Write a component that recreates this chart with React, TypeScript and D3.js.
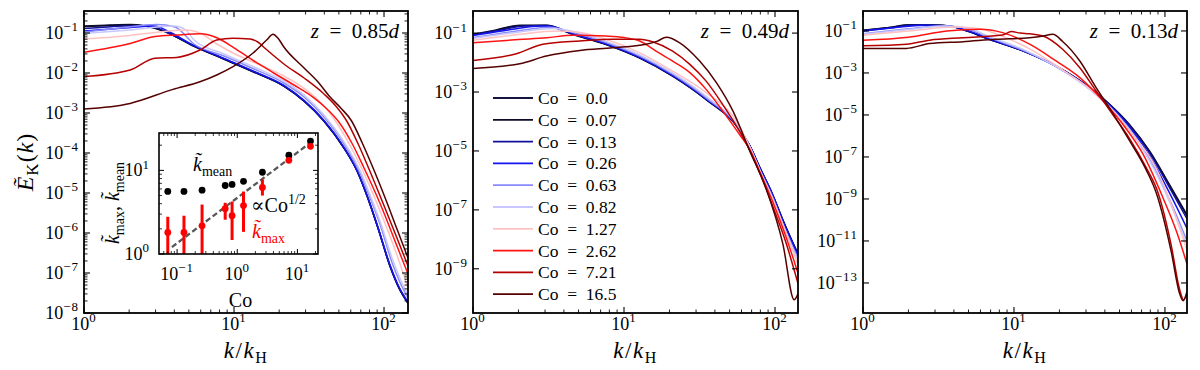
import React from "react";
import * as d3 from "d3";

type Pt = [number, number]; // [k, log10 E]

const FONT = "'Liberation Serif', 'DejaVu Serif', serif";
const EN = "\u2002";

// ---------- legend / colours ----------
const CO_LABELS = ["0.0", "0.07", "0.13", "0.26", "0.63", "0.82", "1.27", "2.62", "7.21", "16.5"];
const CO_COLORS = ["#14143c", "#0c0c26", "#10109c", "#1414ee", "#8a8aff", "#c8c8ff", "#ffc2c2", "#ff1212", "#b40000", "#540000"];

// ---------- panel z = 0.85d ----------
const Z085_CO_000: Pt[] = [[1,-0.825],[1.49,-0.80],[2.03,-0.79],[2.55,-0.825],[3.41,-0.95],[5.41,-1.325],[8.58,-1.65],[13.6,-1.975],[21.5,-2.325],[29.3,-2.7],[39.8,-3.2],[54.1,-3.875],[66.2,-4.45],[76.7,-5.05],[91.2,-5.875],[109.6,-6.825],[125.9,-7.375],[144.5,-7.75]];
const Z085_CO_007: Pt[] = [[1,-0.84],[1.5,-0.81],[2.1,-0.80],[2.6,-0.83],[3.41,-0.955],[5.41,-1.33],[8.58,-1.655],[13.6,-1.98],[21.5,-2.33],[29.3,-2.705],[39.8,-3.205],[54.1,-3.88],[66.2,-4.455],[76.7,-5.055],[91.2,-5.88],[109.6,-6.83],[125.9,-7.38],[144.5,-7.76]];
const Z085_CO_013: Pt[] = [[1,-0.89],[1.85,-0.825],[2.75,-0.81],[3.41,-0.95],[5.41,-1.32],[8.58,-1.645],[13.6,-1.97],[21.5,-2.32],[29.3,-2.695],[39.8,-3.195],[54.1,-3.87],[66.2,-4.445],[76.7,-5.045],[91.2,-5.87],[109.6,-6.82],[125.9,-7.37],[144.5,-7.74]];
const Z085_CO_026: Pt[] = [[1,-0.95],[1.85,-0.875],[2.97,-0.825],[3.6,-0.95],[5.41,-1.31],[8.58,-1.635],[13.6,-1.96],[21.5,-2.31],[29.3,-2.685],[39.8,-3.185],[54.1,-3.86],[66.2,-4.44],[76.7,-5.04],[91.2,-5.86],[109.6,-6.8],[125.9,-7.35],[144.5,-7.72]];
const Z085_CO_063: Pt[] = [[1,-0.975],[1.74,-0.875],[3.06,-0.79],[4.04,-0.85],[5.41,-1.275],[8.58,-1.575],[13.6,-1.9],[21.5,-2.25],[29.3,-2.6],[39.8,-3.1],[54.1,-3.775],[68.1,-4.45],[80.8,-5.125],[94.4,-5.8],[112.7,-6.725],[127.4,-7.225],[144.5,-7.625]];
const Z085_CO_082: Pt[] = [[1,-1.01],[2.03,-0.925],[3.98,-0.825],[4.78,-0.925],[5.41,-1.175],[8.58,-1.525],[13.6,-1.85],[21.5,-2.2],[29.3,-2.55],[39.8,-3.05],[54.1,-3.725],[69.5,-4.45],[81.7,-5.1],[95.5,-5.775],[114.3,-6.675],[129.3,-7.175],[144.5,-7.55]];
const Z085_CO_127: Pt[] = [[1,-1.15],[2.03,-1.06],[3.47,-0.96],[4.83,-0.925],[5.93,-1.0],[7.69,-1.275],[9.85,-1.5],[12.9,-1.7],[21.5,-2.075],[35.8,-2.65],[45,-3.075],[56.7,-3.675],[71.3,-4.4],[91.2,-5.325],[122,-6.55],[144.5,-7.375]];
const Z085_CO_262: Pt[] = [[1,-1.48],[2.03,-1.26],[2.97,-1.09],[4.15,-1.05],[6.0,-1.02],[7.69,-1.12],[10,-1.37],[13.6,-1.70],[18.4,-2.0],[25.1,-2.3],[34.1,-2.62],[41,-2.875],[50,-3.225],[61,-3.75],[73.6,-4.375],[94.4,-5.275],[122,-6.325],[144.5,-7.025]];
const Z085_CO_721: Pt[] = [[1,-2.09],[2.03,-1.925],[2.97,-1.63],[4.15,-1.61],[5.93,-1.425],[7.67,-1.175],[9.85,-1.13],[12.8,-1.15],[14.4,-1.225],[16.3,-1.4],[21.5,-1.775],[29.3,-2.125],[39.8,-2.525],[47.7,-2.825],[56.4,-3.2],[66.8,-3.75],[79.4,-4.4],[98.4,-5.25],[122,-6.125],[144.5,-6.825]];
const Z085_CO_165: Pt[] = [[1,-2.9],[2.03,-2.76],[3.92,-2.41],[5.93,-2.22],[7.67,-2.05],[9.85,-1.84],[13.4,-1.5],[16.5,-1.175],[18.2,-1.03],[19.6,-1.125],[21.5,-1.35],[29.3,-1.875],[36.3,-2.225],[43.7,-2.6],[51.5,-2.875],[60.8,-3.2],[71.6,-3.75],[85.1,-4.4],[101.8,-5.125],[122,-5.9],[144.5,-6.625]];

// ---------- panel z = 0.49d ----------
const Z049_CO_000: Pt[] = [[1,-1.04],[1.4,-0.9],[2.04,-0.73],[3.06,-0.73],[4.6,-1.04],[7.6,-1.38],[12.7,-1.84],[21.1,-2.46],[35,-3.25],[58,-4.26],[68,-4.82],[80,-5.6],[95,-6.4],[113,-7.35],[142,-8.5]];
const Z049_CO_007: Pt[] = [[1,-1.05],[1.4,-0.92],[2,-0.75],[3,-0.74],[4.6,-1.05],[7.6,-1.39],[12.7,-1.85],[21.1,-2.47],[35,-3.26],[58,-4.27],[68,-4.83],[80,-5.62],[95,-6.42],[113,-7.37],[142,-8.52]];
const Z049_CO_013: Pt[] = [[1,-1.06],[1.5,-0.9],[2.2,-0.76],[3.1,-0.74],[4.6,-1.03],[7.6,-1.37],[12.7,-1.83],[21.1,-2.45],[35,-3.24],[58,-4.25],[68,-4.82],[80,-5.6],[95,-6.4],[113,-7.36],[142,-8.5]];
const Z049_CO_026: Pt[] = [[1,-1.08],[1.6,-0.92],[2.8,-0.76],[3.4,-0.8],[4.6,-1.02],[7.6,-1.36],[12.7,-1.82],[21.1,-2.44],[35,-3.23],[58,-4.25],[68,-4.83],[80,-5.62],[95,-6.42],[113,-7.4],[142,-8.55]];
const Z049_CO_063: Pt[] = [[1,-1.15],[2,-0.92],[3.2,-0.8],[4.6,-0.98],[7.6,-1.32],[12.7,-1.78],[21.1,-2.4],[35,-3.2],[58,-4.24],[68,-4.85],[80,-5.68],[95,-6.5],[113,-7.5],[142,-8.65]];
const Z049_CO_082: Pt[] = [[1,-1.18],[2,-0.97],[3.4,-0.84],[5,-0.98],[7.6,-1.28],[12.7,-1.74],[21.1,-2.36],[35,-3.15],[58,-4.22],[68,-4.86],[80,-5.7],[95,-6.55],[113,-7.55],[142,-8.72]];
const Z049_CO_127: Pt[] = [[1,-1.24],[2,-1.05],[3.6,-0.93],[5,-0.97],[7.6,-1.21],[12.7,-1.67],[21,-2.29],[35,-3.02],[58,-4.15],[68,-4.87],[80,-5.72],[97,-6.65],[118,-7.75],[142,-8.85]];
const Z049_CO_262: Pt[] = [[1,-1.33],[2,-1.22],[3.06,-1.16],[4.6,-1.07],[7.6,-1.1],[10,-1.15],[12.7,-1.27],[16.3,-1.61],[21,-1.95],[27.3,-2.34],[35,-2.91],[45,-3.64],[58,-4.43],[68,-4.95],[80,-5.75],[97,-6.75],[118,-7.9],[142,-9.15]];
const Z049_CO_721: Pt[] = [[1,-1.93],[1.94,-1.70],[2.9,-1.38],[5.1,-1.27],[8.4,-1.21],[12.7,-1.21],[15.6,-1.3],[21,-1.61],[27.3,-2.06],[35,-2.63],[45,-3.42],[58,-4.32],[68,-4.97],[80,-5.8],[97,-6.9],[118,-8.1],[142,-9.5]];
const Z049_CO_165: Pt[] = [[1,-2.2],[2.04,-2.04],[3.06,-1.78],[5.1,-1.59],[8.4,-1.5],[14,-1.38],[16.5,-1.28],[19.1,-1.14],[23.4,-1.33],[31.7,-1.95],[40.9,-2.68],[52.6,-3.64],[68,-5.0],[87.6,-6.3],[112.8,-8.16],[134,-10.05],[142,-9.85]];

// ---------- panel z = 0.13d ----------
const Z013_CO_000: Pt[] = [[1,-0.97],[1.5,-0.83],[2.04,-0.71],[3,-0.72],[3.75,-0.76],[5,-1.02],[6.9,-1.4],[11.5,-1.95],[19,-2.67],[31.7,-3.7],[43,-4.49],[58,-5.44],[79,-6.71],[107,-8.3],[140,-9.75]];
const Z013_CO_007: Pt[] = [[1,-0.98],[1.5,-0.84],[2.1,-0.72],[3,-0.73],[3.8,-0.78],[5,-1.03],[6.9,-1.41],[11.5,-1.96],[19,-2.68],[31.7,-3.71],[43,-4.5],[58,-5.46],[79,-6.74],[107,-8.35],[140,-9.82]];
const Z013_CO_013: Pt[] = [[1,-0.99],[1.6,-0.83],[2.2,-0.72],[3.2,-0.74],[4,-0.8],[5,-1.02],[6.9,-1.4],[11.5,-1.95],[19,-2.68],[31.7,-3.72],[43,-4.52],[58,-5.5],[79,-6.8],[107,-8.45],[140,-9.95]];
const Z013_CO_026: Pt[] = [[1,-1.0],[1.6,-0.85],[2.5,-0.73],[3.4,-0.75],[4.2,-0.84],[5.5,-1.1],[6.9,-1.38],[11.5,-1.94],[19,-2.68],[31.7,-3.73],[43,-4.55],[58,-5.57],[79,-6.95],[107,-8.7],[140,-10.4]];
const Z013_CO_063: Pt[] = [[1,-1.13],[2,-0.9],[3.2,-0.76],[4.5,-0.82],[6.9,-1.33],[11.5,-1.92],[19,-2.7],[31.7,-3.76],[43,-4.6],[58,-5.66],[79,-7.1],[107,-9.0],[140,-11.0]];
const Z013_CO_082: Pt[] = [[1,-1.16],[2,-0.93],[3.5,-0.77],[5,-0.87],[6.9,-1.28],[11.5,-1.88],[19,-2.7],[31.7,-3.78],[43,-4.63],[58,-5.7],[79,-7.18],[107,-9.12],[140,-11.2]];
const Z013_CO_127: Pt[] = [[1,-1.2],[2,-1.0],[4.15,-0.81],[6,-0.9],[8,-1.2],[12.7,-1.85],[21,-2.85],[35,-4.0],[58,-5.72],[87.6,-7.55],[110,-9.25],[140,-11.45]];
const Z013_CO_262: Pt[] = [[1,-1.44],[2,-1.3],[3.6,-1.0],[5.9,-0.92],[8.4,-1.08],[12.7,-1.63],[19,-2.43],[27.3,-3.22],[39,-4.33],[52.6,-5.44],[71.6,-6.87],[97,-8.94],[120,-10.6],[140,-12.1]];
const Z013_CO_721: Pt[] = [[1,-1.71],[1.94,-1.63],[2.76,-1.44],[4.6,-1.32],[8.4,-1.19],[9.6,-1.03],[11,-1.1],[12.7,-1.13],[15.6,-1.24],[21,-1.87],[27.3,-2.75],[35,-3.86],[45,-4.97],[58,-6.1],[75,-7.5],[90,-8.7],[110,-11.2],[125,-13.3],[133,-13.8],[140,-13.5]];
const Z013_CO_165: Pt[] = [[1,-1.83],[1.94,-1.83],[2.76,-1.6],[4.6,-1.51],[7.6,-1.4],[12.7,-1.32],[15.6,-1.24],[18.1,-1.16],[21,-1.5],[27.3,-2.43],[35,-3.7],[45,-4.9],[58,-6.2],[75,-7.6],[88,-8.75],[110,-11.5],[125,-13.5],[132,-13.85],[140,-13.4]];

// ---------- inset (k_mean, k_max vs Co) ----------
const INSET_CO = [0.07, 0.13, 0.26, 0.63, 0.82, 1.27, 2.62, 7.21, 16.5];
const INSET_KMEAN = [5.6, 5.6, 5.8, 6.6, 6.8, 7.4, 9.5, 15.2, 22.4];
const INSET_KMAX = [1.81, 1.81, 2.17, 3.48, 2.87, 3.79, 6.24, 13.2, 19.4];
const INSET_KMAX_LO = [0.8, 0.8, 0.8, 2.57, 1.47, 1.84, 5.0, 12.4, 18.4];
const INSET_KMAX_HI = [2.79, 2.87, 3.9, 4.1, 4.24, 5.58, 7.8, 14.2, 20.5];
const INSET_FIT: Pt[] = [[0.082, 1.21], [16.5, 21.5]];

// ---------- panel layout ----------
const TOP = 11, BOTTOM = 313;

const PANEL_A = { title: "0.85", left: 84, right: 408, xMax: 144.5, yLo: -8, yHi: -0.45, yMajor: [-1,-2,-3,-4,-5,-6,-7,-8], minorY: true,
  curves: [Z085_CO_000, Z085_CO_007, Z085_CO_013, Z085_CO_026, Z085_CO_063, Z085_CO_082, Z085_CO_127, Z085_CO_262, Z085_CO_721, Z085_CO_165] };
const PANEL_B = { title: "0.49", left: 473, right: 798, xMax: 142, yLo: -10.5, yHi: -0.25, yMajor: [-1,-3,-5,-7,-9], minorY: false,
  curves: [Z049_CO_000, Z049_CO_007, Z049_CO_013, Z049_CO_026, Z049_CO_063, Z049_CO_082, Z049_CO_127, Z049_CO_262, Z049_CO_721, Z049_CO_165] };
const PANEL_C = { title: "0.13", left: 863, right: 1187, xMax: 140, yLo: -14.43, yHi: -0.05, yMajor: [-1,-3,-5,-7,-9,-11,-13], minorY: false,
  curves: [Z013_CO_000, Z013_CO_007, Z013_CO_013, Z013_CO_026, Z013_CO_063, Z013_CO_082, Z013_CO_127, Z013_CO_262, Z013_CO_721, Z013_CO_165] };

const MINUS = "\u2212";
const fmtExp = (e: number) => (e < 0 ? MINUS + Math.abs(e) : String(e));

function Pow10({ x, y, e, anchor, size = 18 }: { x: number; y: number; e: number; anchor: string; size?: number }) {
  return (
    <text x={x} y={y} textAnchor={anchor} fontFamily={FONT} fontSize={size} fill="#000">
      10<tspan dy={-size * 0.42} fontSize={size * 0.72} letterSpacing={1}>{fmtExp(e)}</tspan>
    </text>
  );
}

function minorList(lo: number, hi: number): number[] {
  const out: number[] = [];
  for (let p = Math.floor(Math.log10(lo)); p <= Math.ceil(Math.log10(hi)); p++) {
    for (let m = 2; m <= 9; m++) {
      const v = m * Math.pow(10, p);
      if (v > lo * 1.0001 && v < hi * 0.9999) out.push(v);
    }
  }
  return out;
}

function Panel({ cfg, idx }: { cfg: typeof PANEL_A; idx: number }) {
  const xs = d3.scaleLog().domain([1, cfg.xMax]).range([cfg.left, cfg.right]);
  const ys = d3.scaleLog().domain([Math.pow(10, cfg.yLo), Math.pow(10, cfg.yHi)]).range([BOTTOM, TOP]);
  const line = d3.line<Pt>().x(d => xs(d[0])).y(d => ys(Math.pow(10, d[1]))).curve(d3.curveMonotoneX);
  const clipId = `clip${idx}`;
  const MAJ = 6, MIN = 3.5;
  const xMajors = [1, 10, 100].filter(v => v <= cfg.xMax);
  const xMinors = minorList(1, cfg.xMax);
  const yMinors = cfg.minorY ? minorList(Math.pow(10, cfg.yLo), Math.pow(10, cfg.yHi)) : [];
  const cx = (cfg.left + cfg.right) / 2;
  return (
    <g>
      <defs>
        <clipPath id={clipId}><rect x={cfg.left} y={TOP} width={cfg.right - cfg.left} height={BOTTOM - TOP} /></clipPath>
      </defs>
      <g clipPath={`url(#${clipId})`}>
        {cfg.curves.map((c, i) => (
          <path key={i} d={line(c) || ""} fill="none" stroke={CO_COLORS[i]} strokeWidth={1.5} strokeLinejoin="round" />
        ))}
      </g>
      <g stroke="#000">
        {xMajors.map(v => (
          <g key={"xm" + v}>
            <line x1={xs(v)} x2={xs(v)} y1={BOTTOM} y2={BOTTOM - MAJ} strokeWidth={1.1} />
            <line x1={xs(v)} x2={xs(v)} y1={TOP} y2={TOP + MAJ} strokeWidth={1.1} />
          </g>
        ))}
        {xMinors.map(v => (
          <g key={"xn" + v}>
            <line x1={xs(v)} x2={xs(v)} y1={BOTTOM} y2={BOTTOM - MIN} strokeWidth={0.9} />
            <line x1={xs(v)} x2={xs(v)} y1={TOP} y2={TOP + MIN} strokeWidth={0.9} />
          </g>
        ))}
        {cfg.yMajor.map(e => (
          <g key={"ym" + e}>
            <line x1={cfg.left} x2={cfg.left + MAJ} y1={ys(Math.pow(10, e))} y2={ys(Math.pow(10, e))} strokeWidth={1.1} />
            <line x1={cfg.right} x2={cfg.right - MAJ} y1={ys(Math.pow(10, e))} y2={ys(Math.pow(10, e))} strokeWidth={1.1} />
          </g>
        ))}
        {yMinors.map(v => (
          <g key={"yn" + v}>
            <line x1={cfg.left} x2={cfg.left + MIN} y1={ys(v)} y2={ys(v)} strokeWidth={0.9} />
            <line x1={cfg.right} x2={cfg.right - MIN} y1={ys(v)} y2={ys(v)} strokeWidth={0.9} />
          </g>
        ))}
      </g>
      <rect x={cfg.left} y={TOP} width={cfg.right - cfg.left} height={BOTTOM - TOP} fill="none" stroke="#000" strokeWidth={1.8} />
      {xMajors.map(v => (
        <Pow10 key={"xl" + v} x={xs(v)} y={BOTTOM + 17} e={Math.round(Math.log10(v))} anchor="middle" />
      ))}
      {cfg.yMajor.map(e => (
        <Pow10 key={"yl" + e} x={cfg.left - 5} y={ys(Math.pow(10, e)) + 6} e={e} anchor="end" />
      ))}
      <text x={cx} y={358} textAnchor="middle" fontFamily={FONT} fontSize={23} letterSpacing={1.5}>
        <tspan fontStyle="italic">k</tspan>/<tspan fontStyle="italic">k</tspan><tspan dy={5} fontSize={16}>H</tspan>
      </text>
      <text x={cfg.right - 9} y={38} textAnchor="end" fontFamily={FONT} fontSize={21}>
        <tspan fontStyle="italic">z</tspan>{EN + "=" + EN + cfg.title}<tspan fontStyle="italic">d</tspan>
      </text>
    </g>
  );
}

function Legend() {
  const x0 = 493, x1 = 533, y0 = 98, dy = 21.8;
  return (
    <g>
      {CO_LABELS.map((lab, i) => (
        <g key={lab}>
          <line x1={x0} x2={x1} y1={y0 + i * dy} y2={y0 + i * dy} stroke={CO_COLORS[i]} strokeWidth={1.8} />
          <text x={x1 + 5} y={y0 + i * dy + 6} fontFamily={FONT} fontSize={17.5}>{"Co" + EN + "=" + EN + lab}</text>
        </g>
      ))}
    </g>
  );
}

function Inset() {
  const L = 159, R = 318, T = 133, B = 254;
  const xs = d3.scaleLog().domain([0.05, 22]).range([L, R]);
  const ys = d3.scaleLog().domain([1, 28]).range([B, T]);
  const fit = d3.line<Pt>().x(d => xs(d[0])).y(d => ys(d[1]));
  const MAJ = 5, MIN = 3;
  const xMaj = [0.1, 1, 10];
  const xMin = minorList(0.05, 22);
  const yMaj = [1, 10];
  const yMin = minorList(1, 28);
  return (
    <g>
      <defs><clipPath id="insetclip"><rect x={L} y={T} width={R - L} height={B - T} /></clipPath></defs>
      <rect x={L} y={T} width={R - L} height={B - T} fill="#fff" />
      <g clipPath="url(#insetclip)">
        <path d={fit(INSET_FIT) || ""} stroke="#585858" strokeWidth={2.3} strokeDasharray="5.5,3" fill="none" />
        {INSET_CO.map((c, i) => (
          <circle key={"m" + i} cx={xs(c)} cy={ys(INSET_KMEAN[i])} r={3.4} fill="#000" />
        ))}
        {INSET_CO.map((c, i) => (
          <g key={"r" + i}>
            <line x1={xs(c)} x2={xs(c)} y1={ys(INSET_KMAX_LO[i])} y2={ys(INSET_KMAX_HI[i])} stroke="#ff0000" strokeWidth={3} />
            <circle cx={xs(c)} cy={ys(INSET_KMAX[i])} r={3.4} fill="#ff0000" />
          </g>
        ))}
      </g>
      <g stroke="#000">
        {xMaj.map(v => (
          <g key={"a" + v}>
            <line x1={xs(v)} x2={xs(v)} y1={B} y2={B - MAJ} strokeWidth={1} />
            <line x1={xs(v)} x2={xs(v)} y1={T} y2={T + MAJ} strokeWidth={1} />
          </g>
        ))}
        {xMin.map(v => (
          <g key={"b" + v}>
            <line x1={xs(v)} x2={xs(v)} y1={B} y2={B - MIN} strokeWidth={0.8} />
            <line x1={xs(v)} x2={xs(v)} y1={T} y2={T + MIN} strokeWidth={0.8} />
          </g>
        ))}
        {yMaj.map(v => (
          <g key={"c" + v}>
            <line x1={L} x2={L + MAJ} y1={ys(v)} y2={ys(v)} strokeWidth={1} />
            <line x1={R} x2={R - MAJ} y1={ys(v)} y2={ys(v)} strokeWidth={1} />
          </g>
        ))}
        {yMin.map(v => (
          <g key={"d" + v}>
            <line x1={L} x2={L + MIN} y1={ys(v)} y2={ys(v)} strokeWidth={0.8} />
            <line x1={R} x2={R - MIN} y1={ys(v)} y2={ys(v)} strokeWidth={0.8} />
          </g>
        ))}
      </g>
      <rect x={L} y={T} width={R - L} height={B - T} fill="none" stroke="#000" strokeWidth={1.6} />
      {xMaj.map(v => (
        <Pow10 key={"xl" + v} x={xs(v)} y={B + 26} e={Math.round(Math.log10(v))} anchor="middle" />
      ))}
      {yMaj.map(v => (
        <Pow10 key={"yl" + v} x={L - 9} y={ys(v) + 6} e={Math.round(Math.log10(v))} anchor="end" />
      ))}
      <text x={(L + R) / 2 + 2} y={307} textAnchor="middle" fontFamily={FONT} fontSize={20}>Co</text>
      <text transform={`translate(119,203) rotate(-90)`} textAnchor="middle" fontFamily={FONT} fontSize={20}>
        <tspan fontStyle="italic">{"k\u0303"}</tspan><tspan dy={5} fontSize={14}>max</tspan><tspan dy={-5}>, </tspan>
        <tspan fontStyle="italic">{"k\u0303"}</tspan><tspan dy={5} fontSize={14}>mean</tspan>
      </text>
      <text x={193} y={171} fontFamily={FONT} fontSize={20}>
        <tspan fontStyle="italic">{"k\u0303"}</tspan><tspan dy={5} fontSize={14}>mean</tspan>
      </text>
      <text x={251} y={212} fontFamily={FONT} fontSize={20}>
        ∝Co<tspan dy={-8} fontSize={14}>1/2</tspan>
      </text>
      <text x={252} y={238} fontFamily={FONT} fontSize={20} fill="#ff0000">
        <tspan fontStyle="italic">{"k\u0303"}</tspan><tspan dy={5} fontSize={14}>max</tspan>
      </text>
    </g>
  );
}

export default function App() {
  return (
    <svg width={1200} height={370} style={{ position: "absolute", left: 0, top: 0, background: "#fff" }}>
      <rect x={0} y={0} width={1200} height={370} fill="#fff" />
      <Panel cfg={PANEL_A} idx={0} />
      <Panel cfg={PANEL_B} idx={1} />
      <Panel cfg={PANEL_C} idx={2} />
      <Legend />
      <Inset />
      <text transform="translate(33,162) rotate(-90)" textAnchor="middle" fontFamily={FONT} fontSize={24} letterSpacing={1}>
        <tspan fontStyle="italic">{"\u1EBC"}</tspan><tspan dy={5} fontSize={17}>K</tspan><tspan dy={-5}>(</tspan><tspan fontStyle="italic">k</tspan>)
      </text>
    </svg>
  );
}
